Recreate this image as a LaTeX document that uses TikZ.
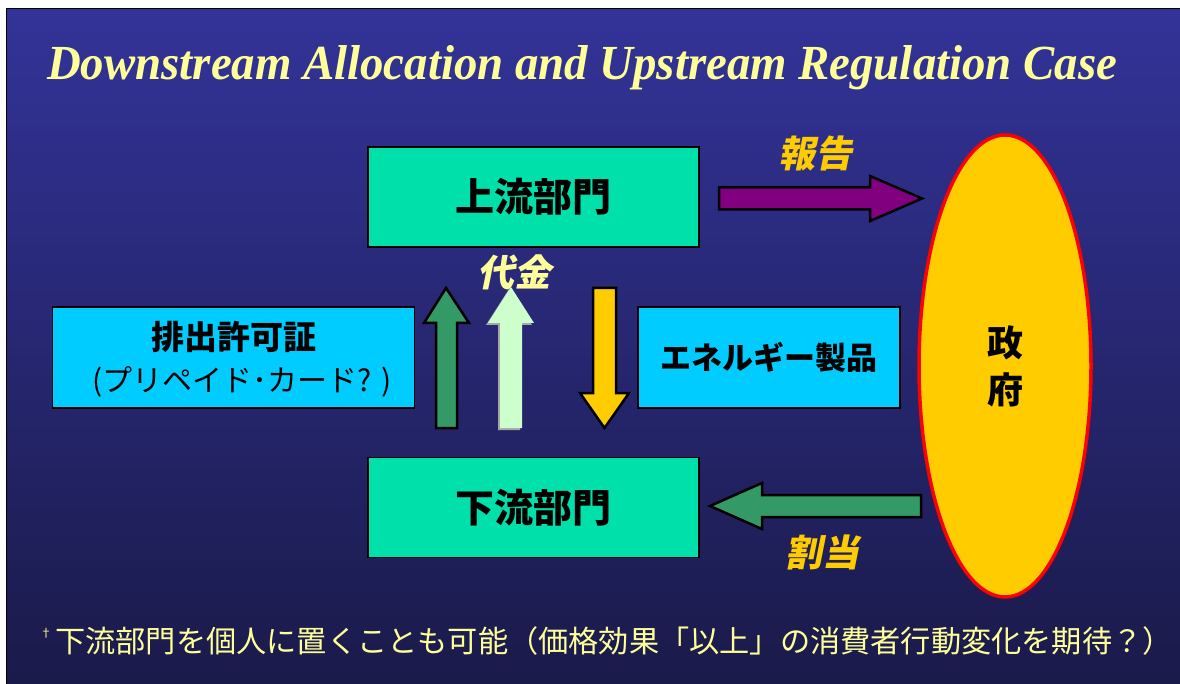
\documentclass[tikz,border=0pt]{standalone}
\usepackage{fontspec}
\setmainfont{Liberation Serif}
\newfontfamily\cjk{Noto Sans CJK JP}
\newfontfamily\cjkit[FakeSlant=0.2]{Noto Sans CJK JP}
\newfontfamily\titlefont[FakeStretch=0.955]{Liberation Serif}
\usetikzlibrary{shapes.geometric}
\definecolor{bgtop}{HTML}{333399}
\definecolor{bgbot}{HTML}{1A1A4A}
\definecolor{titleyel}{HTML}{FFFF99}
\definecolor{boxgreen}{HTML}{00E0AA}
\definecolor{boxcyan}{HTML}{00CCFF}
\definecolor{arrpurple}{HTML}{800080}
\definecolor{arrgreen}{HTML}{339966}
\definecolor{arrlight}{HTML}{CCFFCC}
\definecolor{govyel}{HTML}{FFCC00}
\tikzset{
  sector/.style={draw=black, line width=1.2pt, fill=boxgreen, minimum width=331pt, minimum height=100pt, inner sep=0pt, font=\cjk\bfseries\fontsize{39}{41}\selectfont},
  cyanbox/.style={draw=black, line width=1.2pt, fill=boxcyan, inner sep=0pt},
  blockarrow/.style={draw=black, line width=2.5pt, line join=miter},
  flowlabel/.style={font=\cjkit\bfseries\fontsize{37}{40}\selectfont, inner sep=0pt}
}
\begin{document}
\begin{tikzpicture}[x=1pt,y=-1pt]
\useasboundingbox (0,0) rectangle (1180,684);
\fill[white] (0,0) rectangle (1180,684);
\shade[top color=bgtop, bottom color=bgbot] (7,9) rectangle (1180,684);
\draw[black, line width=1.5pt] (6.5,684) -- (6.5,8.5) -- (1180,8.5);

% title
\node[anchor=base west, inner sep=0pt, text=titleyel, font=\titlefont\bfseries\itshape\fontsize{49}{52}\selectfont] (title) at (47,80) {Downstream Allocation and Upstream Regulation Case};

% sector boxes
\node[sector] (up) at (533.5,197) {上流部門};
\node[sector] (down) at (533.5,507.5) {下流部門};

% permit box
\node[cyanbox, minimum width=362pt, minimum height=101pt] (permit) at (233.5,357.5) {};
\node[font=\cjk\bfseries\fontsize{33}{36}\selectfont, inner sep=0pt] (permitA) at (233.5,337) {排出許可証};
\node[font=\cjk\fontsize{30}{32}\selectfont, inner sep=0pt] (permitB) at (242,382) {(プリペイド･カード? )};

% energy box
\node[cyanbox, minimum width=262pt, minimum height=101pt, font=\cjk\bfseries\fontsize{31}{34}\selectfont] (energy) at (769,357.5) {エネルギー製品};

% government ellipse
\node[ellipse, draw=red, line width=3.5pt, fill=govyel, minimum width=172pt, minimum height=462pt, inner sep=0pt, align=center, font=\cjk\bfseries\fontsize{36}{47}\selectfont] (gov) at (1005,366) {政\\府};

% report arrow (purple, right)
\draw[blockarrow, fill=arrpurple] (719,187.5) -- (870,187.5) -- (870,176) -- (922,198.5) -- (870,221) -- (870,209.5) -- (719,209.5) -- cycle;
\node[flowlabel, text=govyel] (report) at (815,153) {報告};

% allocation arrow (green, left)
\draw[blockarrow, fill=arrgreen] (921,495) -- (762,495) -- (762,483) -- (710,506) -- (762,529) -- (762,517) -- (921,517) -- cycle;
\node[flowlabel, text=govyel] (alloc) at (822,552) {割当};

% permit flow arrow (dark green, up)
\draw[blockarrow, fill=arrgreen] (436,428) -- (436,323) -- (424,323) -- (446,288) -- (469,323) -- (457,323) -- (457,428) -- cycle;

% payment arrow (light green, up, shadowed)
\fill[gray!70] (498,430) -- (498,325) -- (486,325) -- (509,289) -- (532,325) -- (520,325) -- (520,430) -- cycle;
\fill[arrlight] (500,428) -- (500,323) -- (488,323) -- (511,287) -- (534,323) -- (522,323) -- (522,428) -- cycle;
\node[flowlabel, text=titleyel] (pay) at (514,272) {代金};

% energy flow arrow (yellow, down)
\draw[blockarrow, fill=govyel] (593,288) -- (616,288) -- (616,393) -- (629,393) -- (604.5,428) -- (580,393) -- (593,393) -- cycle;

% footnote
\node[anchor=base west, inner sep=0pt, text=titleyel, font=\cjk\fontsize{12}{14}\selectfont] (dag) at (40,637) {†};
\node[anchor=base west, inner sep=0pt, text=titleyel, font=\cjk\fontsize{30.2}{32}\selectfont] (note) at (55,652) {下流部門を個人に置くことも可能（価格効果「以上」の消費者行動変化を期待？）};
\end{tikzpicture}
\end{document}
